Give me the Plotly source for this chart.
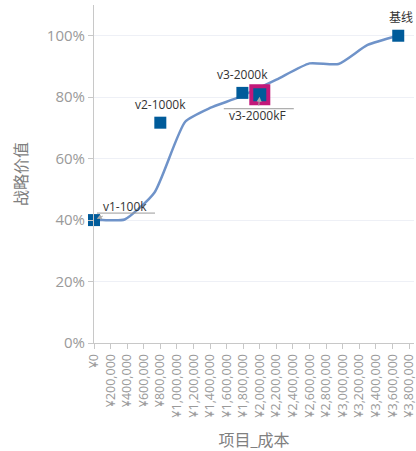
import plotly.graph_objects as go

# ---- data ----
curve_cost = [0, 100000, 370000, 730000, 1100000, 1400000, 1750000, 2200000, 2600000, 2950000, 3300000, 3670000]
curve_value = [0.40, 0.40, 0.402, 0.49, 0.72, 0.765, 0.80, 0.857, 0.91, 0.908, 0.97, 1.0]

pt_labels = ["v1-100k", "v2-1000k", "v3-2000k", "v3-2000kF", "基线"]
pt_cost = [0, 800000, 1790000, 2000000, 3670000]
pt_value = [0.40, 0.717, 0.814, 0.808, 1.0]

x_tickvals = list(range(0, 3800001, 200000))
x_ticktext = ["¥{:,}".format(v) for v in x_tickvals]
y_tickvals = [0, 0.2, 0.4, 0.6, 0.8, 1.0]

FONT = "Open Sans, Noto Sans CJK SC, sans-serif"
GRAY = "#9a9a9a"
BLUE = "#005b9a"

fig = go.Figure()
fig.add_trace(go.Scatter(x=curve_cost, y=curve_value, mode="lines",
                         line=dict(color="#6f93c9", width=2.5, shape="spline", smoothing=0.55),
                         hoverinfo="skip", showlegend=False))

normal = [i for i, l in enumerate(pt_labels) if l != "v3-2000kF"]
hl = [i for i, l in enumerate(pt_labels) if l == "v3-2000kF"]
fig.add_trace(go.Scatter(x=[pt_cost[i] for i in normal], y=[pt_value[i] for i in normal],
                         mode="markers", marker=dict(symbol="square", size=12, color=BLUE),
                         showlegend=False, cliponaxis=False))
fig.add_trace(go.Scatter(x=[pt_cost[i] for i in hl], y=[pt_value[i] for i in hl],
                         mode="markers", marker=dict(symbol="square", size=17, color=BLUE,
                                                     line=dict(color="#c2187a", width=4)),
                         showlegend=False))

annotations = []
shapes = []
for lab, cx, cy in zip(pt_labels, pt_cost, pt_value):
    if lab == "v1-100k":
        annotations.append(dict(x=cx, y=cy, text=lab, showarrow=True, ax=31, ay=-14,
                                arrowcolor="#aaaaaa", arrowhead=2, arrowwidth=1, standoff=3,
                                font=dict(size=12, color="#333333", family=FONT)))
        shapes.append(dict(type="line", xref="x", yref="y", xsizemode="pixel", ysizemode="pixel",
                           xanchor=cx, yanchor=cy, x0=3, x1=61, y0=7, y1=7,
                           line=dict(color="#999999", width=1)))
    elif lab == "v3-2000kF":
        annotations.append(dict(x=cx, y=cy, text=lab, showarrow=True, ax=-2, ay=21,
                                arrowcolor="#aaaaaa", arrowhead=2, arrowwidth=1, standoff=2,
                                font=dict(size=12, color="#333333", family=FONT)))
        shapes.append(dict(type="line", xref="x", yref="y", xsizemode="pixel", ysizemode="pixel",
                           xanchor=cx, yanchor=cy, x0=-36, x1=34, y0=-14, y1=-14,
                           line=dict(color="#999999", width=1)))
    else:
        annotations.append(dict(x=cx, y=cy, text=lab, showarrow=False, yshift=18,
                                xshift=(3 if lab == "基线" else 0),
                                font=dict(size=12, color="#333333", family=FONT)))

fig.update_layout(
    width=416, height=451,
    margin=dict(l=94, r=2, t=5, b=108),
    paper_bgcolor="white", plot_bgcolor="white",
    font=dict(family=FONT, color=GRAY),
    annotations=annotations, shapes=shapes,
    xaxis=dict(range=[0, 3860000], tickvals=x_tickvals, ticktext=x_ticktext, tickangle=-90,
               automargin=False, ticklabeloverflow="allow",
               showgrid=False, zeroline=False, showline=True, linecolor="#c8c8c8",
               ticks="outside", ticklen=5, tickcolor="#c8c8c8",
               tickfont=dict(size=12.5, color=GRAY),
               title=dict(text="项目_成本", font=dict(size=16, color="#808080"), standoff=18)),
    yaxis=dict(range=[0, 1.1], tickvals=y_tickvals, tickformat=".0%",
               automargin=False,
               showgrid=True, gridcolor="#eef0f6", zeroline=False, showline=True,
               linecolor="#c8c8c8", ticks="outside", ticklen=5, tickcolor="#c8c8c8",
               tickfont=dict(size=15, color=GRAY),
               title=dict(text="战略价值", font=dict(size=16, color="#808080"))),
)

fig.write_html("out.html", config={"displayModeBar": False},
               post_script="document.body.style.margin='0px';")
